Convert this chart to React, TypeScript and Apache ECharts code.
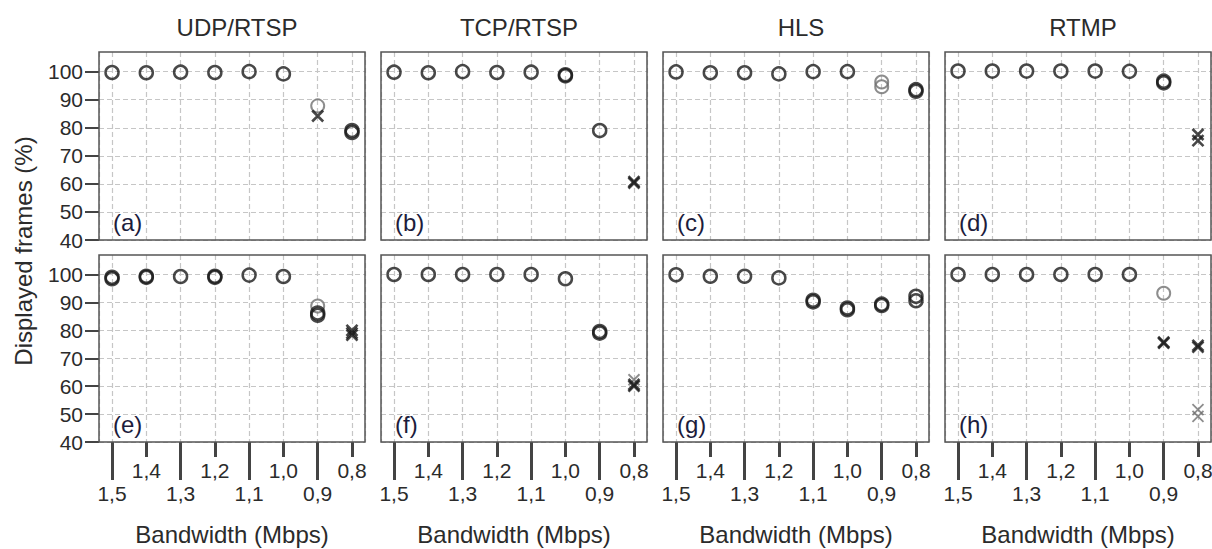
import React, { useEffect, useRef } from 'react';
import * as echarts from 'echarts';

type Pt = [number, number];

const bandwidths = [1.5, 1.4, 1.3, 1.2, 1.1, 1.0, 0.9, 0.8];
const protocols = ['UDP/RTSP', 'TCP/RTSP', 'HLS', 'RTMP'];
const panelLetters = ['(a)', '(b)', '(c)', '(d)', '(e)', '(f)', '(g)', '(h)'];
const yTicks = [40, 50, 60, 70, 80, 90, 100];
const longTickValues = [1.5, 1.3, 1.1, 0.9];
const shortTickValues = [1.4, 1.2, 1.0, 0.8];
const yAxisTitle = 'Displayed frames (%)';
const xAxisTitle = 'Bandwidth (Mbps)';

// (a) UDP/RTSP, top row
const aCircles: Pt[] = [[1.5, 99.7], [1.4, 99.6], [1.3, 99.8], [1.2, 99.7], [1.1, 100], [1.0, 99.2], [0.8, 79.0], [0.8, 78.3]];
const aLightCircles: Pt[] = [[0.9, 87.8]];
const aCrosses: Pt[] = [[0.9, 84.2]];
const aLightCrosses: Pt[] = [];

// (b) TCP/RTSP, top row
const bCircles: Pt[] = [[1.5, 99.8], [1.4, 99.6], [1.3, 100], [1.2, 99.7], [1.1, 99.8], [1.0, 98.5], [1.0, 98.9], [0.9, 79.0]];
const bLightCircles: Pt[] = [];
const bCrosses: Pt[] = [[0.8, 60.8], [0.8, 60.3]];
const bLightCrosses: Pt[] = [];

// (c) HLS, top row
const cCircles: Pt[] = [[1.5, 99.9], [1.4, 99.6], [1.3, 99.6], [1.2, 99.2], [1.1, 100], [1.0, 100], [0.8, 93.6], [0.8, 93.0]];
const cLightCircles: Pt[] = [[0.9, 96.3], [0.9, 94.6]];
const cCrosses: Pt[] = [];
const cLightCrosses: Pt[] = [];

// (d) RTMP, top row
const dCircles: Pt[] = [[1.5, 100.2], [1.4, 100.2], [1.3, 100.2], [1.2, 100.2], [1.1, 100.2], [1.0, 100.1], [0.9, 96.6], [0.9, 96.0]];
const dLightCircles: Pt[] = [];
const dCrosses: Pt[] = [[0.8, 77.6], [0.8, 75.4]];
const dLightCrosses: Pt[] = [];

// (e) UDP/RTSP, bottom row
const eCircles: Pt[] = [[1.5, 98.5], [1.5, 99.0], [1.4, 99.0], [1.4, 99.4], [1.3, 99.3], [1.2, 99.4], [1.2, 99.0], [1.1, 99.8], [1.0, 99.3], [0.9, 86.2], [0.9, 85.4]];
const eLightCircles: Pt[] = [[0.9, 88.7]];
const eCrosses: Pt[] = [[0.8, 80.0], [0.8, 79.0], [0.8, 78.3]];
const eLightCrosses: Pt[] = [];

// (f) TCP/RTSP, bottom row
const fCircles: Pt[] = [[1.5, 100], [1.4, 100], [1.3, 100], [1.2, 100], [1.1, 100], [1.0, 98.5], [0.9, 79.6], [0.9, 79.0]];
const fLightCircles: Pt[] = [];
const fCrosses: Pt[] = [[0.8, 60.6], [0.8, 60.0]];
const fLightCrosses: Pt[] = [[0.8, 62.3]];

// (g) HLS, bottom row
const gCircles: Pt[] = [[1.5, 99.9], [1.4, 99.4], [1.3, 99.4], [1.2, 98.8], [1.1, 90.8], [1.1, 90.2], [1.0, 88.0], [1.0, 87.4], [0.9, 89.4], [0.9, 88.9], [0.8, 92.2], [0.8, 90.6]];
const gLightCircles: Pt[] = [];
const gCrosses: Pt[] = [];
const gLightCrosses: Pt[] = [];

// (h) RTMP, bottom row
const hCircles: Pt[] = [[1.5, 100], [1.4, 100], [1.3, 100], [1.2, 100], [1.1, 100], [1.0, 100]];
const hLightCircles: Pt[] = [[0.9, 93.3]];
const hCrosses: Pt[] = [[0.9, 75.8], [0.9, 75.4], [0.8, 74.6], [0.8, 74.0]];
const hLightCrosses: Pt[] = [[0.8, 51.6], [0.8, 49.2]];

const panels = [
  { circles: aCircles, lightCircles: aLightCircles, crosses: aCrosses, lightCrosses: aLightCrosses },
  { circles: bCircles, lightCircles: bLightCircles, crosses: bCrosses, lightCrosses: bLightCrosses },
  { circles: cCircles, lightCircles: cLightCircles, crosses: cCrosses, lightCrosses: cLightCrosses },
  { circles: dCircles, lightCircles: dLightCircles, crosses: dCrosses, lightCrosses: dLightCrosses },
  { circles: eCircles, lightCircles: eLightCircles, crosses: eCrosses, lightCrosses: eLightCrosses },
  { circles: fCircles, lightCircles: fLightCircles, crosses: fCrosses, lightCrosses: fLightCrosses },
  { circles: gCircles, lightCircles: gLightCircles, crosses: gCrosses, lightCrosses: gLightCrosses },
  { circles: hCircles, lightCircles: hLightCircles, crosses: hCrosses, lightCrosses: hLightCrosses },
];

const FONT = '"Liberation Sans", Arial, sans-serif';
const TEXT = '#2b2b2b';
const WORD_SIZE = 24;
const NUM_SIZE = 21;
const colLefts = [99, 381, 663, 945];
const colWidth = 266;
const rowTops = [52, 255];
const rowHeights = [188, 187];
const X_MIN = 0.762;
const X_MAX = 1.538;
const Y_MIN = 40;
const Y_MAX = 107;
const CROSS = 'path://M0,0L10,10M0,10L10,0';

const fmtComma = (v: number) => v.toFixed(1).replace('.', ',');

function buildOption() {
  const grids: any[] = [];
  const xAxes: any[] = [];
  const yAxes: any[] = [];
  const series: any[] = [];
  const titles: any[] = [];
  const graphics: any[] = [];

  const splitLine = { show: true, lineStyle: { type: [5, 3], color: '#c6c6c6', width: 1.2 } };

  protocols.forEach((p, col) => {
    titles.push({
      text: p,
      left: colLefts[col] + colWidth / 2,
      top: 10,
      textAlign: 'center',
      textStyle: { fontFamily: FONT, fontSize: WORD_SIZE, fontWeight: 'normal', color: TEXT },
    });
  });

  panels.forEach((panel, i) => {
    const row = Math.floor(i / 4);
    const col = i % 4;
    const left = colLefts[col];
    const top = rowTops[row];
    const height = rowHeights[row];
    grids.push({
      left, top, width: colWidth, height,
      outerBoundsMode: 'none', containLabel: false,
      show: true, borderColor: '#555', borderWidth: 1.5, backgroundColor: 'transparent', z: 5,
    });

    const mainX = xAxes.length;
    xAxes.push({
      type: 'value', gridIndex: i, min: X_MIN, max: X_MAX, inverse: true, splitNumber: 8, position: 'bottom',
      axisLine: { show: false }, axisTick: { show: false }, axisLabel: { show: false }, splitLine,
    });
    if (row === 1) {
      xAxes.push({
        type: 'value', gridIndex: i, min: X_MIN, max: X_MAX, inverse: true, position: 'bottom',
        axisLine: { show: false }, splitLine: { show: false },
        axisTick: { show: true, customValues: longTickValues, length: 38, lineStyle: { color: '#444', width: 3 } },
        axisLabel: { show: true, customValues: longTickValues, margin: 41, formatter: fmtComma, fontFamily: FONT, fontSize: NUM_SIZE, color: TEXT },
        name: xAxisTitle, nameLocation: 'middle', nameGap: 80,
        nameTextStyle: { fontFamily: FONT, fontSize: WORD_SIZE, color: TEXT },
      });
      xAxes.push({
        type: 'value', gridIndex: i, min: X_MIN, max: X_MAX, inverse: true, position: 'bottom',
        axisLine: { show: false }, splitLine: { show: false },
        axisTick: { show: true, customValues: shortTickValues, length: 15, lineStyle: { color: '#444', width: 3 } },
        axisLabel: { show: true, customValues: shortTickValues, margin: 18, formatter: fmtComma, fontFamily: FONT, fontSize: NUM_SIZE, color: TEXT },
      });
    }
    yAxes.push({
      type: 'value', gridIndex: i, min: Y_MIN, max: Y_MAX, interval: 10,
      axisLine: { show: false },
      axisTick: { show: col === 0, customValues: yTicks, length: 14, lineStyle: { color: '#444', width: 2 } },
      axisLabel: { show: col === 0, customValues: yTicks, margin: 16, fontFamily: FONT, fontSize: NUM_SIZE, color: TEXT },
      splitLine,
    });

    const base = { type: 'scatter', xAxisIndex: mainX, yAxisIndex: i, silent: true, z: 3 };
    series.push({
      ...base, data: panel.lightCircles, symbol: 'circle', symbolSize: 13,
      itemStyle: { color: 'rgba(0,0,0,0)', borderColor: '#707070', borderWidth: 2 },
    });
    series.push({
      ...base, data: panel.circles, symbol: 'circle', symbolSize: 13,
      itemStyle: { color: 'rgba(0,0,0,0)', borderColor: '#1a1a1a', borderWidth: 2.5 },
    });
    series.push({
      ...base, data: panel.lightCrosses, symbol: CROSS, symbolSize: 11,
      itemStyle: { color: 'none', borderColor: '#707070', borderWidth: 1.8 },
    });
    series.push({
      ...base, data: panel.crosses, symbol: CROSS, symbolSize: 11,
      itemStyle: { color: 'none', borderColor: '#1a1a1a', borderWidth: 2.6 },
    });

    graphics.push({
      type: 'text', left: left + 14, top: top + height - 30, z: 10,
      style: { text: panelLetters[i], fontFamily: FONT, fontSize: WORD_SIZE, fill: '#1c1c3c' },
    });
  });

  graphics.push({
    type: 'text', x: 23, y: 251, rotation: Math.PI / 2, z: 10,
    style: { text: yAxisTitle, fontFamily: FONT, fontSize: WORD_SIZE, fill: TEXT, align: 'center', verticalAlign: 'middle' },
  });

  return {
    animation: false,
    backgroundColor: '#ffffff',
    title: titles,
    grid: grids,
    xAxis: xAxes,
    yAxis: yAxes,
    series,
    graphic: graphics,
  };
}

export default function App() {
  const ref = useRef<HTMLDivElement>(null);
  useEffect(() => {
    if (!ref.current) return;
    const chart = echarts.init(ref.current, undefined, { renderer: 'svg' });
    chart.setOption(buildOption() as any);
    return () => chart.dispose();
  }, []);
  return <div ref={ref} style={{ position: 'fixed', left: 0, top: 0, width: 1212, height: 549 }} />;
}
